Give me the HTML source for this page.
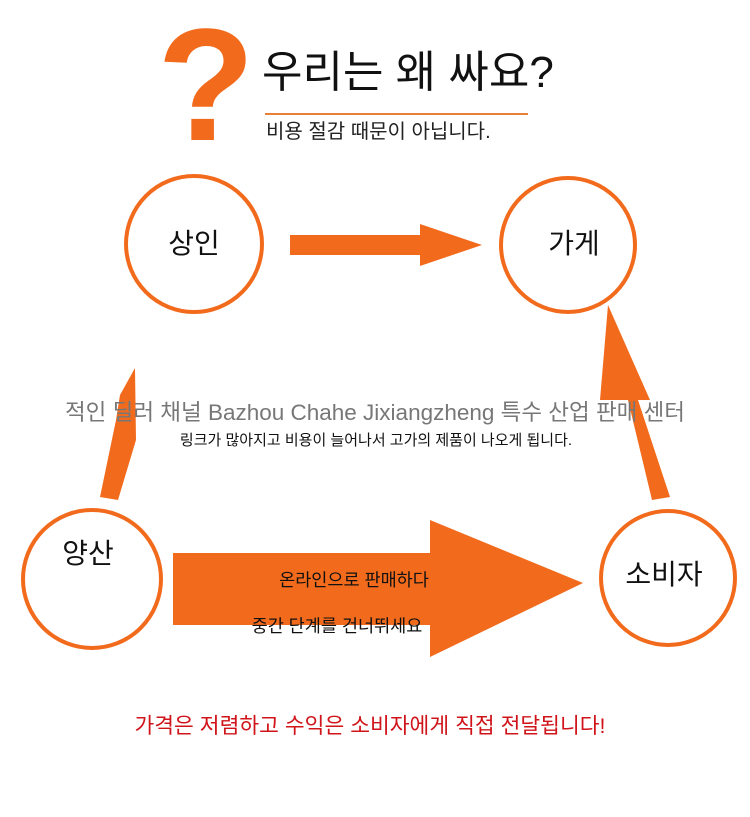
<!DOCTYPE html>
<html><head><meta charset="utf-8"><style>
body{margin:0;background:#fff;}
svg{display:block;font-family:"Liberation Sans","Noto Sans CJK KR",sans-serif;}
</style></head><body>
<svg width="750" height="817" viewBox="0 0 750 817">
<text x="206" y="140" font-size="160" font-weight="bold" fill="#f26b1d" text-anchor="middle" font-family="Liberation Sans,sans-serif">?</text>
<text x="262" y="87" font-size="44" fill="#111">우리는 왜 싸요?</text>
<line x1="265" y1="114" x2="528" y2="114" stroke="#e8803a" stroke-width="2"/>
<text x="266" y="138" font-size="20" fill="#222">비용 절감 때문이 아닙니다.</text>
<g fill="none" stroke="#f26b1d" stroke-width="4">
<circle cx="194" cy="244" r="68"/>
<circle cx="568" cy="245" r="67"/>
<circle cx="92" cy="579" r="69"/>
<circle cx="668" cy="578" r="67"/>
</g>
<g fill="#f26b1d">
<polygon points="290,235 420,235 420,224 482,245 420,266 420,255 290,255"/>
<polygon points="135,368 136,440 118,500 100,497 116,420 120,395"/>
<polygon points="652,500 628,400 600,400 608,305 650,400 638,400 670,497"/>
<polygon points="173,553 430,553 430,520 583,583 430,657 430,625 173,625"/>
</g>
<text x="375" y="420" font-size="22.5" fill="#777" text-anchor="middle">적인 딜러 채널 Bazhou Chahe Jixiangzheng 특수 산업 판매 센터</text>
<text x="376" y="445" font-size="15" fill="#111" text-anchor="middle">링크가 많아지고 비용이 늘어나서 고가의 제품이 나오게 됩니다.</text>
<text x="194" y="253" font-size="28" fill="#111" text-anchor="middle">상인</text>
<text x="574" y="253" font-size="28" fill="#111" text-anchor="middle">가게</text>
<text x="88" y="563" font-size="28" fill="#111" text-anchor="middle">양산</text>
<text x="664" y="584" font-size="28" fill="#111" text-anchor="middle">소비자</text>
<text x="354" y="586" font-size="17.5" fill="#111" text-anchor="middle">온라인으로 판매하다</text>
<text x="337" y="632" font-size="17.5" fill="#111" text-anchor="middle">중간 단계를 건너뛰세요</text>
<text x="370" y="733" font-size="21.5" fill="#d0141a" text-anchor="middle">가격은 저렴하고 수익은 소비자에게 직접 전달됩니다!</text>
</svg>
</body></html>
